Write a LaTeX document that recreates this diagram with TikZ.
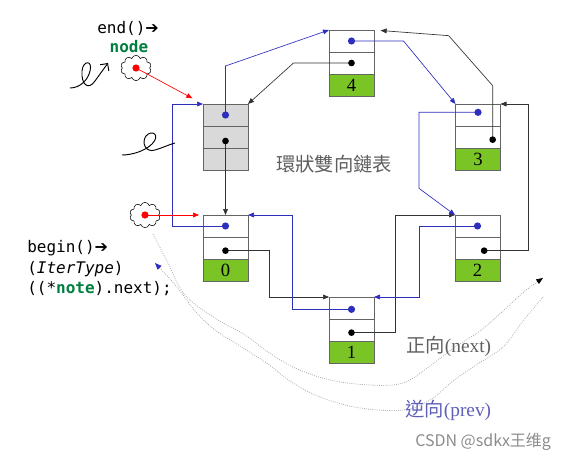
\documentclass[tikz,border=0pt]{standalone}
\usepackage{fontspec}
\setmainfont{Liberation Serif}
\newfontfamily\cjk{Noto Sans CJK TC}
\newfontfamily\codefont{DejaVu Sans Mono}
\newfontfamily\symfont{DejaVu Sans}
\usetikzlibrary{positioning,arrows.meta,shapes.symbols}

\definecolor{listgreen}{RGB}{122,196,38}
\definecolor{headgray}{RGB}{217,217,217}
\definecolor{boxline}{RGB}{100,100,100}
\definecolor{prevblue}{RGB}{45,45,190}
\definecolor{codegreen}{RGB}{0,128,64}
\definecolor{curvegray}{RGB}{170,170,170}
\definecolor{textgray}{RGB}{95,95,95}
\definecolor{prevtext}{RGB}{95,95,185}

\tikzset{
  cell/.style={draw=boxline, fill=white, minimum width=33.75pt, minimum height=16.5pt, inner sep=0pt, outer sep=0pt, line width=0.6pt},
  datacell/.style={cell, fill=listgreen, font=\fontsize{14}{16}\selectfont},
  headcell/.style={cell, fill=headgray},
  tip/.style={-{Triangle[length=4.5pt,width=3.6pt]}},
  nextline/.style={tip, draw=black!80, line width=0.5pt},
  prevline/.style={tip, draw=prevblue, line width=0.5pt},
  pointer/.style={tip, draw=red, line width=0.5pt},
  wave/.style={curvegray, densely dotted, line width=0.6pt},
  blob/.style={cloud, draw, cloud puffs=10, minimum width=23pt, minimum height=19pt, inner sep=0pt},
  code/.style={font=\codefont\fontsize{12}{15.5}\selectfont, inner sep=0pt}
}

\begin{document}
\begin{tikzpicture}[x=0.75pt,y=0.75pt,yscale=-1,xscale=1]
  \useasboundingbox (0,0) rectangle (579,460);

  % header node
  \node[headcell, anchor=north] (h-a) at (225.5,104) {};
  \node[headcell, below=0pt of h-a] (h-b) {};
  \node[headcell, below=0pt of h-b] (h-c) {};

  % data nodes
  \foreach \n/\x/\y in {4/351.5/30, 3/478/104, 0/225.5/215, 2/477.5/215, 1/351.5/297} {
    \node[cell, anchor=north] (n\n-a) at (\x,\y) {};
    \node[cell, below=0pt of n\n-a] (n\n-b) {};
    \node[datacell, below=0pt of n\n-b] (n\n-c) {\n};
  }

  % pointer dots
  \coordinate (hp) at (h-a.center);
  \coordinate (hn) at ([yshift=3pt]h-b.center);
  \coordinate (p4) at (n4-a.center);
  \coordinate (x4) at (n4-b.center);
  \coordinate (p3) at ([yshift=-2pt]n3-a.center);
  \coordinate (x3) at ([xshift=11pt,yshift=2pt]n3-b.center);
  \coordinate (p0) at (n0-a.center);
  \coordinate (x0) at ([yshift=2pt]n0-b.center);
  \coordinate (p2) at (n2-a.center);
  \coordinate (x2) at ([xshift=5pt,yshift=2pt]n2-b.center);
  \coordinate (p1) at ([yshift=1pt]n1-a.center);
  \coordinate (x1) at ([yshift=2pt]n1-b.center);

  % next
  \draw[nextline] (hn) -- (n0-a.north);
  \draw[nextline] (x0) -- ++(44,0) |- (n1-a.north west);
  \draw[nextline] (x1) -- ++(44,0) |- (n2-a.north west);
  \draw[nextline] (x2) -- ++(44,0) |- (n3-a.north east);
  \draw[nextline, shorten >=5pt] (x3) -- ++(0,-54) -- ++(-44,-50) -- (n4-a.north east);
  \draw[nextline] (x4) -- ++(-58,0) -- (h-a.north east);

  % prev
  \draw[prevline] (hp) -- ++(0,-49) -- (n4-a.north west);
  \draw[prevline] (p4) -- ++(52,0) -- (n3-a.north west);
  \draw[prevline] (p3) -- ++(-59,0) -- ++(0,76) -- (n2-a.north west);
  \draw[prevline] (p2) -- ++(-58,0) |- (n1-a.north east);
  \draw[prevline] (p1) -- ++(-59,0) |- (n0-a.north east);
  \draw[prevline] (p0) -- ++(-53,0) |- (h-a.north west);

  \foreach \d in {hp,p4,p3,p0,p2,p1} \fill[prevblue] (\d) circle (2.7pt);
  \foreach \d in {hn,x4,x3,x0,x2,x1} \fill[black] (\d) circle (2.5pt);

  % iterators
  \node[code, anchor=north west] (endtxt) at (97,21) {end()\symfont\bfseries➔};
  \node[code, font=\codefont\bfseries\fontsize{12}{15}\selectfont, text=codegreen] (nodetxt) at (129,47) {node};
  \node[blob] (cl1) at (136,68) {};
  \node[blob] (cl2) at (145,215) {};
  \fill[red] (cl1.center) circle (2.7pt);
  \fill[red] (cl2.center) circle (2.7pt);
  \draw[pointer, shorten >=9pt] (cl1.center) -- (h-a.north west);
  \draw[pointer, shorten >=3pt] (cl2.center) -- (n0-a.north west);
  \node[code, anchor=north west, align=left] (begintxt) at (27,240)
    {begin()\symfont\bfseries➔\\(\textit{IterType})\\((*{\bfseries\color{codegreen}note}).next);};

  % hand squiggles
  \draw[line width=0.7pt, -{Straight Barb[length=4pt]}] (70,88) .. controls (80,88) and (88,80) .. (90,71)
    .. controls (93,60) and (83,60) .. (82,71) .. controls (81,84) and (88,91) .. (95,81) -- (108,63);
  \draw[line width=0.7pt] (122,155) .. controls (132,155) and (145,151) .. (152,144)
    .. controls (161,135) and (152,129) .. (146,136) .. controls (141,143) and (146,153) .. (155,150)
    .. controls (162,148) and (168,145) .. (175,143);

  % direction curves
  \draw[wave, -{Triangle[length=5pt,width=4pt,color=black]}] plot[smooth, tension=0.6] coordinates {
    (153,234) (168,263) (185,295) (215,318) (245,335) (268,352) (295,368) (330,380) (370,385)
    (403,383) (430,366) (455,347) (480,331) (503,311) (525,291) (543,278)};
  \draw[wave, -{Triangle[length=5pt,width=4pt,color=prevblue]}] plot[smooth, tension=0.6] coordinates {
    (543,297) (523,321) (503,347) (476,365) (453,381) (430,400) (403,410) (360,408) (320,397)
    (290,381) (268,364) (240,346) (215,330) (195,311) (177,287) (155,263)};

  % labels
  \node[text=textgray, font=\cjk\fontsize{14.5}{16}\selectfont] (title) at (334,164) {環狀雙向鏈表};
  \node[text=textgray, font=\fontsize{14.5}{16}\selectfont, anchor=west, inner sep=0pt] (nextlbl) at (406,346) {{\cjk 正向}(next)};
  \node[text=prevtext, font=\fontsize{14.5}{16}\selectfont, anchor=west, inner sep=0pt] (prevlbl) at (405,410) {{\cjk 逆向}(prev)};
  \node[text=black!45, font=\cjk\fontsize{12}{14}\selectfont, anchor=west, inner sep=0pt] (mark) at (415,442) {CSDN @sdkx王维g};
\end{tikzpicture}
\end{document}
